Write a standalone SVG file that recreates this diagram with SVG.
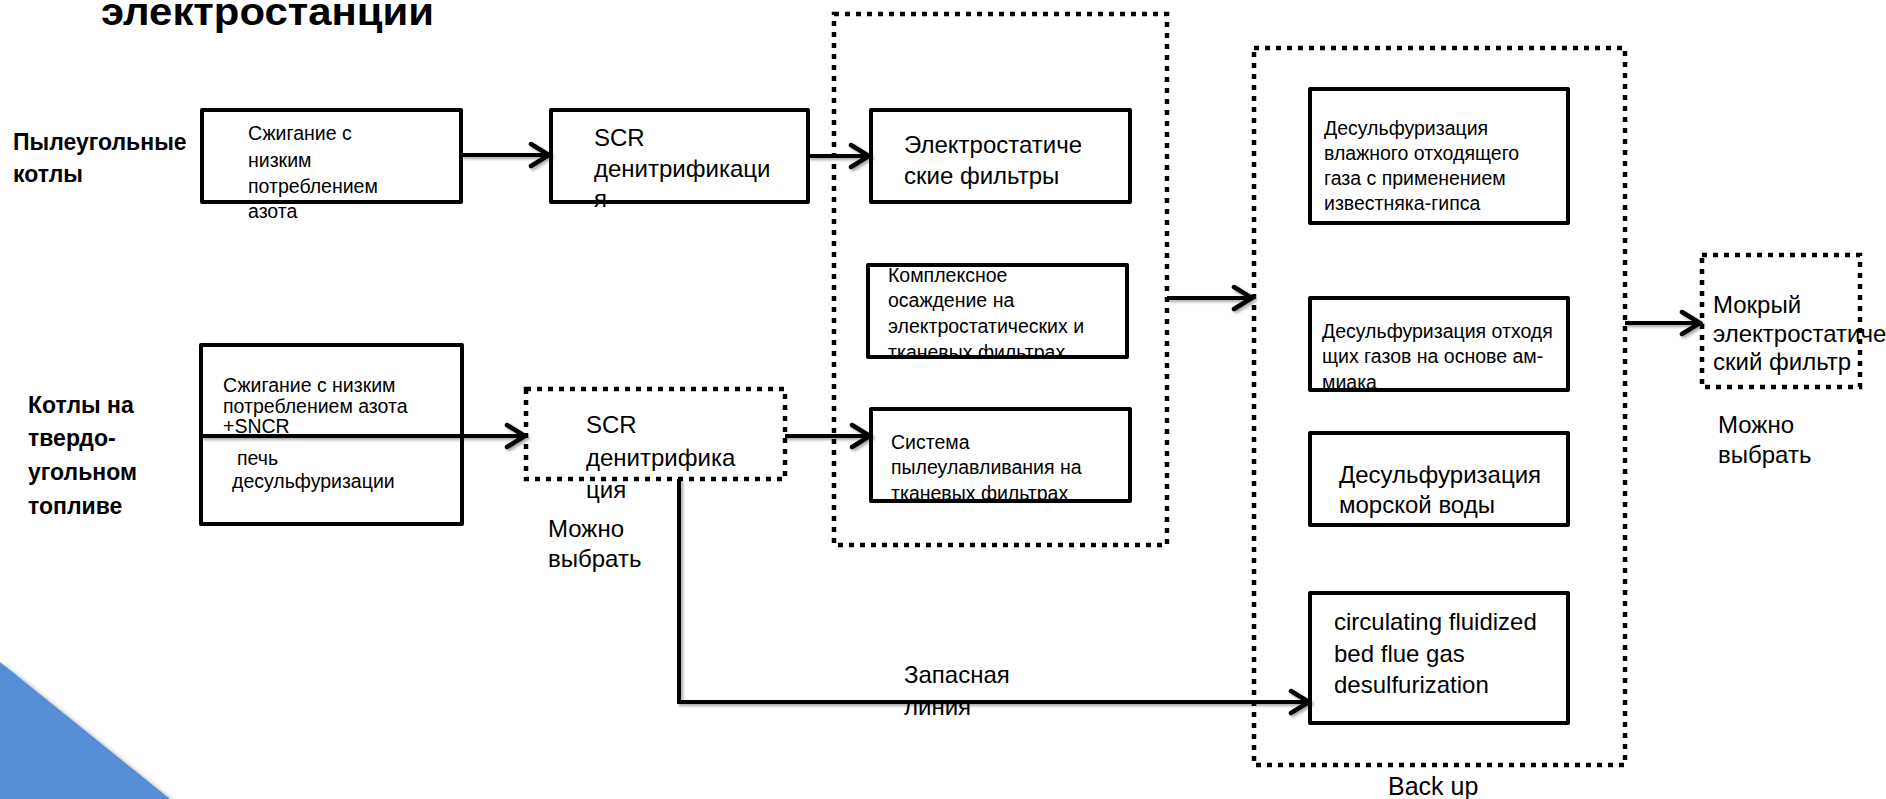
<svg xmlns="http://www.w3.org/2000/svg" width="1886" height="799" viewBox="0 0 1886 799">
<style>
.box{fill:#fff;stroke:#000;stroke-width:4;stroke-linejoin:round}
.dot{fill:none;stroke:#000;stroke-width:4.5;stroke-dasharray:5 6}
.t{font-family:"Liberation Sans",Arial,sans-serif;fill:#000}
.s{font-size:19.5px}
.m{font-size:24px}
.b{font-size:23px;font-weight:bold}
.conn{fill:none;stroke:#000;stroke-width:4}
</style>
<defs>
<marker id="arr" markerUnits="userSpaceOnUse" viewBox="0 0 24 28" markerWidth="24" markerHeight="28" refX="21" refY="14" orient="auto">
<path d="M3,3 L21,14 L3,25" fill="none" stroke="#000" stroke-width="4.5" stroke-linecap="round" stroke-linejoin="miter"/>
</marker>
<filter id="sh" x="-10%" y="-50%" width="120%" height="200%">
<feDropShadow dx="2" dy="2" stdDeviation="1.5" flood-color="#000" flood-opacity="0.35"/>
</filter>
<filter id="tsh" x="-10%" y="-10%" width="130%" height="130%">
<feDropShadow dx="3" dy="3" stdDeviation="2.5" flood-color="#000" flood-opacity="0.45"/>
</filter>
<clipPath id="cpComplex"><rect x="860" y="255" width="275" height="104"/></clipPath>
<clipPath id="cpSystem"><rect x="860" y="400" width="275" height="103"/></clipPath>
<clipPath id="cpAmmonia"><rect x="1300" y="290" width="275" height="102"/></clipPath>
</defs>
<rect width="1886" height="799" fill="#fff"/>
<polygon points="0,662 170,799 0,799" fill="#558ED5" filter="url(#tsh)"/>

<text class="t" x="101" y="25" font-size="39" font-weight="bold" textLength="333" lengthAdjust="spacingAndGlyphs">электростанции</text>

<g id="label-pulverized">
<text class="t b" x="13" y="150">Пылеугольные</text>
<text class="t b" x="13" y="182">котлы</text>
</g>
<g id="label-solid">
<text class="t b" x="28" y="413">Котлы на</text>
<text class="t b" x="28" y="446">твердо-</text>
<text class="t b" x="28" y="480">угольном</text>
<text class="t b" x="28" y="514">топливе</text>
</g>

<g id="node-lownox">
<rect class="box" x="202" y="110" width="259" height="92"/>
<text class="t s" x="248" y="140">Сжигание с</text>
<text class="t s" x="248" y="167">низким</text>
<text class="t s" x="248" y="193">потреблением</text>
<text class="t s" x="248" y="218">азота</text>
</g>

<g id="node-scr1">
<rect class="box" x="551" y="110" width="257" height="92"/>
<text class="t m" x="594" y="146">SCR</text>
<text class="t m" x="594" y="177">денитрификаци</text>
<text class="t m" x="594" y="207">я</text>
</g>

<g id="node-lownox-sncr">
<rect class="box" x="201" y="345" width="261" height="179"/>
<text class="t s" x="223" y="392">Сжигание с низким</text>
<text class="t s" x="223" y="413">потреблением азота</text>
<text class="t s" x="223" y="433">+SNCR</text>
<text class="t s" x="237" y="465">печь</text>
<text class="t s" x="232" y="488">десульфуризации</text>
</g>

<g id="node-scr2">
<rect class="dot" x="526" y="389" width="259" height="90"/>
<text class="t m" x="586" y="433">SCR</text>
<text class="t m" x="586" y="466">денитрифика</text>
<text class="t m" x="586" y="498">ция</text>
</g>
<g id="label-optional-1">
<text class="t m" x="548" y="537">Можно</text>
<text class="t m" x="548" y="567">выбрать</text>
</g>

<g id="group-dust">
<rect class="dot" x="834" y="14" width="333" height="531"/>
</g>
<g id="node-esp">
<rect class="box" x="871" y="110" width="259" height="92"/>
<text class="t m" x="904" y="153">Электростатиче</text>
<text class="t m" x="904" y="184">ские фильтры</text>
</g>
<g id="node-complex">
<rect class="box" x="868" y="265" width="259" height="92"/>
<g clip-path="url(#cpComplex)">
<text class="t s" x="888" y="282">Комплексное</text>
<text class="t s" x="888" y="307">осаждение на</text>
<text class="t s" x="888" y="333">электростатических и</text>
<text class="t s" x="888" y="359">тканевых фильтрах</text>
</g>
</g>
<g id="node-bag">
<rect class="box" x="871" y="409" width="259" height="92"/>
<g clip-path="url(#cpSystem)">
<text class="t s" x="891" y="449">Система</text>
<text class="t s" x="891" y="474">пылеулавливания на</text>
<text class="t s" x="891" y="500">тканевых фильтрах</text>
</g>
</g>

<g id="group-desulf">
<rect class="dot" x="1254" y="48" width="371" height="717"/>
<text class="t" x="1388" y="795" font-size="25">Back up</text>
</g>
<g id="node-wfgd">
<rect class="box" x="1310" y="89" width="258" height="134"/>
<text class="t s" x="1324" y="135">Десульфуризация</text>
<text class="t s" x="1324" y="160">влажного отходящего</text>
<text class="t s" x="1324" y="185">газа с применением</text>
<text class="t s" x="1324" y="210">известняка-гипса</text>
</g>
<g id="node-ammonia">
<rect class="box" x="1310" y="298" width="258" height="92"/>
<g clip-path="url(#cpAmmonia)">
<text class="t s" x="1322" y="338">Десульфуризация отходя</text>
<text class="t s" x="1322" y="363">щих газов на основе ам-</text>
<text class="t s" x="1322" y="389">миака</text>
</g>
</g>
<g id="node-seawater">
<rect class="box" x="1310" y="433" width="258" height="92"/>
<text class="t m" x="1339" y="483">Десульфуризация</text>
<text class="t m" x="1339" y="513">морской воды</text>
</g>
<g id="node-cfb">
<rect class="box" x="1310" y="593" width="258" height="130"/>
<text class="t m" x="1334" y="630">circulating fluidized</text>
<text class="t m" x="1334" y="662">bed flue gas</text>
<text class="t m" x="1334" y="693">desulfurization</text>
</g>

<g id="node-wesp">
<rect class="dot" x="1702" y="255" width="158" height="132"/>
<text class="t m" x="1713" y="313">Мокрый</text>
<text class="t m" x="1713" y="342">электростатиче</text>
<text class="t m" x="1713" y="370">ский фильтр</text>
</g>
<g id="label-optional-2">
<text class="t m" x="1718" y="433">Можно</text>
<text class="t m" x="1718" y="463">выбрать</text>
</g>

<g id="label-backup-line">
<text class="t m" x="904" y="683">Запасная</text>
<text class="t m" x="904" y="715">линия</text>
</g>

<g id="connectors" filter="url(#sh)">
<line class="conn" x1="461" y1="155" x2="549" y2="155" marker-end="url(#arr)"/>
<line class="conn" x1="808" y1="156" x2="869" y2="156" marker-end="url(#arr)"/>
<line class="conn" x1="201" y1="436" x2="525" y2="436" marker-end="url(#arr)"/>
<line class="conn" x1="785" y1="436" x2="870" y2="436" marker-end="url(#arr)"/>
<line class="conn" x1="1167" y1="298" x2="1252" y2="298" marker-end="url(#arr)"/>
<line class="conn" x1="1625" y1="323" x2="1700" y2="323" marker-end="url(#arr)"/>
<path class="conn" d="M679,479 V702 H1309" stroke-width="3.5" marker-end="url(#arr)"/>
</g>
</svg>
